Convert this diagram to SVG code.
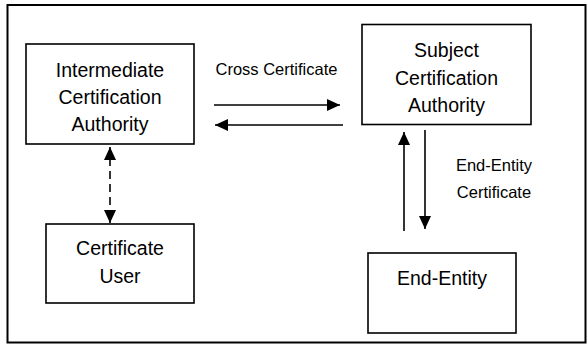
<svg xmlns="http://www.w3.org/2000/svg" width="587" height="344" viewBox="0 0 587 344">
<defs>
<marker id="ah" viewBox="0 0 13 12" refX="13" refY="6" markerWidth="13" markerHeight="12" markerUnits="userSpaceOnUse" orient="auto">
<path d="M0,0 L13,6 L0,12 Z" fill="#000"/>
</marker>
<style>
.box{fill:#fff;stroke:#000;stroke-width:1.6}
.t{font-family:"Liberation Sans",Arial,sans-serif;font-size:19.5px;fill:#000;text-anchor:middle}
.l{font-family:"Liberation Sans",Arial,sans-serif;font-size:16.5px;fill:#000;text-anchor:middle}
.c{stroke:#000;stroke-width:1.6;fill:none}
</style>
</defs>
<rect x="7.5" y="5" width="578" height="337.5" fill="#fff" stroke="#000" stroke-width="2"/>
<g id="intermediate">
<rect class="box" x="26" y="44" width="168" height="100"/>
<text class="t" x="110" y="77">Intermediate</text>
<text class="t" x="110" y="104">Certification</text>
<text class="t" x="110" y="131">Authority</text>
</g>
<g id="subject">
<rect class="box" x="362" y="24.5" width="169" height="100"/>
<text class="t" x="446.5" y="57">Subject</text>
<text class="t" x="446.5" y="84.5">Certification</text>
<text class="t" x="446.5" y="111.5">Authority</text>
</g>
<g id="user">
<rect class="box" x="46" y="224" width="148" height="79"/>
<text class="t" x="120" y="255">Certificate</text>
<text class="t" x="120" y="283">User</text>
</g>
<g id="endentity">
<rect class="box" x="368" y="253" width="148" height="80"/>
<text class="t" x="442" y="285">End-Entity</text>
</g>
<g id="connectors">
<line class="c" x1="214" y1="105" x2="340" y2="105" marker-end="url(#ah)"/>
<line class="c" x1="343" y1="125" x2="215" y2="125" marker-end="url(#ah)"/>
<line class="c" x1="404" y1="231" x2="404" y2="132" marker-end="url(#ah)"/>
<line class="c" x1="425" y1="130" x2="425" y2="229" marker-end="url(#ah)"/>
<line class="c" x1="110" y1="158" x2="110" y2="213" stroke-dasharray="8,5"/>
<line class="c" x1="110" y1="160" x2="110" y2="147" marker-end="url(#ah)"/>
<line class="c" x1="110" y1="210" x2="110" y2="223" marker-end="url(#ah)"/>
<text class="l" x="276.5" y="75">Cross Certificate</text>
<text class="l" x="494" y="171">End-Entity</text>
<text class="l" x="494" y="198">Certificate</text>
</g>
</svg>
